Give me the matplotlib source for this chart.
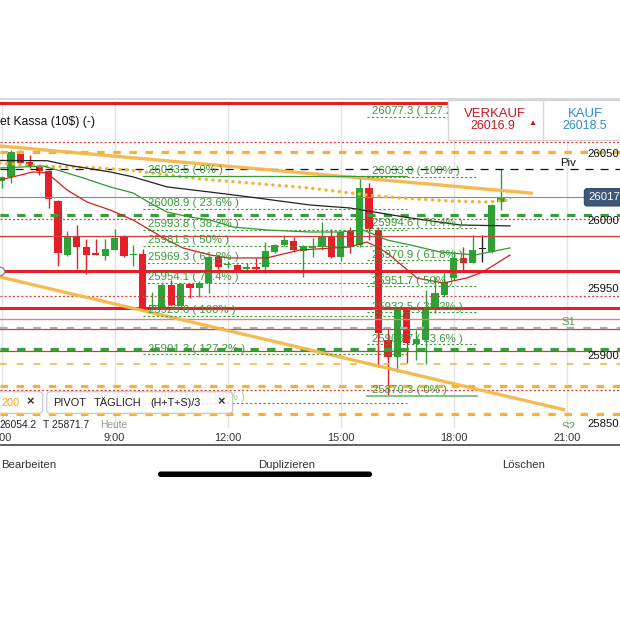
import numpy as np
import pandas as pd
import matplotlib
matplotlib.use("Agg")
import matplotlib.pyplot as plt
from matplotlib import font_manager
from matplotlib.lines import Line2D
from matplotlib.patches import Rectangle, FancyBboxPatch, Polygon

# ---------------------------------------------------------------- data
instrument = "et Kassa (10$) (-)"
bar_times = pd.date_range("2024-01-02 06:00", periods=55, freq="15min")

opens = [26029.8, 26032.8, 26051.3, 26043.9, 26040.2, 26037.2, 26015.0, 25975.0, 25989.1, 25980.9,
         25976.5, 25974.2, 25978.7, 25988.3, 25975.0, 25975.7, 25937.2, 25936.5, 25952.8, 25937.2,
         25953.5, 25950.5, 25954.2, 25973.5, 25967.3, 25967.6, 25964.6, 25966.1, 25966.1, 25977.2,
         25982.4, 25985.4, 25977.9, 25980.2, 25980.9, 25989.1, 25973.5, 25992.8, 25982.4, 26024.6,
         25993.5, 25912.0, 25899.4, 25934.2, 25909.1, 25912.0, 25935.0, 25945.4, 25957.9, 25972.8,
         25969.1, 25979.4, 25977.2, 26014.2, 26017.2]
highs = [26033.5, 26052.8, 26052.8, 26049.1, 26040.9, 26038.0, 26015.7, 25992.8, 25997.2, 25986.8,
         25986.8, 25986.8, 25994.2, 25989.8, 25982.4, 25979.4, 25947.6, 25954.2, 25956.5, 25954.2,
         25954.2, 25955.7, 25974.2, 25975.0, 25970.5, 25968.3, 25969.1, 25972.8, 25984.6, 25983.1,
         25989.8, 25988.3, 25982.4, 25987.6, 25999.4, 25994.2, 25992.0, 25995.7, 26033.0, 26028.3,
         25995.7, 25921.6, 25934.2, 25935.7, 25919.4, 25949.1, 25958.7, 25961.7, 25977.9, 25980.9,
         25989.8, 25989.8, 26012.8, 26038.7, 26017.9]
lows = [26024.6, 26028.3, 26041.6, 26039.4, 26034.2, 26009.8, 25966.8, 25974.2, 25964.6, 25960.9,
        25975.0, 25971.3, 25978.7, 25973.5, 25966.8, 25933.5, 25934.2, 25935.7, 25937.9, 25936.5,
        25943.1, 25943.9, 25946.8, 25964.6, 25965.4, 25963.1, 25963.1, 25963.1, 25961.7, 25976.5,
        25981.6, 25977.2, 25958.7, 25973.5, 25978.7, 25972.8, 25970.5, 25976.5, 25980.9, 25986.1,
        25892.0, 25870.3, 25888.3, 25895.0, 25897.2, 25894.2, 25932.0, 25943.9, 25956.5, 25963.9,
        25969.1, 25969.8, 25976.5, 26008.3, 26017.2]
closes = [26032.8, 26051.3, 26043.1, 26040.2, 26037.2, 26016.5, 25976.5, 25989.1, 25980.9, 25975.0,
          25975.0, 25979.4, 25987.6, 25974.2, 25975.7, 25936.5, 25937.9, 25952.8, 25937.9, 25953.5,
          25950.5, 25954.2, 25973.5, 25966.1, 25967.6, 25963.1, 25966.1, 25964.6, 25977.9, 25982.4,
          25986.1, 25978.7, 25981.6, 25981.6, 25989.1, 25973.5, 25992.0, 25980.9, 26024.6, 25994.2,
          25917.2, 25899.4, 25934.2, 25909.8, 25912.8, 25935.7, 25946.8, 25955.0, 25972.8, 25969.1,
          25978.7, 25979.4, 26012.0, 26017.2, 26017.7]

current_price = 26017.7
sell_price = 26016.9
buy_price = 26018.5
day_high = 26054.2
day_low = 25871.7

# moving averages (hour of day, price)
ma_fast_t = [5.96, 6.84, 7.21, 7.74, 8.27, 8.88, 9.49, 10.39, 10.81, 11.53, 12.01, 13.04,
             13.92, 15.24, 15.69, 15.96, 16.23, 17.02, 17.71, 18.34, 18.77, 19.49]
ma_fast_v = [26030.5, 26036.5, 26035.7, 26023.1, 26014.2, 26008.3, 26000.9, 25986.1, 25980.2,
             25975.0, 25972.8, 25972.8, 25978.7, 25980.9, 25984.6, 25980.9, 25976.5, 25957.9,
             25954.2, 25957.9, 25962.4, 25975.0]
ma_mid_t = [5.96, 7.10, 7.47, 8.17, 8.88, 9.49, 9.94, 10.39, 11.00, 11.53, 12.14, 13.04,
            14.18, 14.98, 15.59, 16.23, 16.84, 17.63, 18.56, 19.49]
ma_mid_v = [26039.4, 26040.9, 26038.0, 26032.0, 26025.4, 26020.9, 26013.5, 26006.8, 26003.1,
            26000.9, 25995.7, 25993.5, 25992.0, 25992.0, 25993.5, 25986.1, 25982.4, 25977.2,
            25975.0, 25980.2]
ma_slow_t = [5.96, 7.21, 7.74, 8.88, 9.49, 10.39, 11.53, 12.59, 14.18, 15.24, 16.84, 18.16, 19.49]
ma_slow_v = [26045.0, 26044.8, 26041.6, 26036.5, 26032.8, 26025.4, 26021.6, 26017.9, 26012.0,
             26009.8, 26002.4, 25997.2, 25996.5]
ma200_t = [5.96, 7.02, 8.61, 9.33, 11.27, 14.18, 15.69, 16.57, 17.90, 18.88, 19.49]
ma200_v = [26043.1, 26040.9, 26039.4, 26038.0, 26031.3, 26024.6, 26019.4, 26017.2, 26015.0,
           26014.2, 26015.7]

# trend lines (hour, price)
upper_trend_t = [5.96, 20.10]
upper_trend_v = [26055.7, 26020.7]
lower_trend_t = [5.96, 20.95]
lower_trend_v = [25958.7, 25860.2]

# horizontal levels
red_thick_levels = [26087.8, 25963.4, 25935.9]
red_thin_levels = [25989.3, 25919.9, 25903.9]
red_light_levels = [25927.2]
red_dotted_levels = [26058.5, 26001.6, 25944.8, 25875.0]
orange_dashed_levels = [26051.5, 25878.2, 25857.2]
orange_thin_levels = [25894.2]
green_dashed_levels = [26004.4, 25905.4]
pivot_level = 26038.7
s1_level = 25921.1
s2_level = 25843.0

# Fibonacci retracements
fib1_levels = [26033.5, 26008.9, 25993.8, 25981.5, 25969.3, 25954.1, 25929.6, 25901.3, 25865.4]
fib1_pcts = ["0%", "23.6%", "38.2%", "50%", "61.8%", "76.4%", "100%", "127.2%", "161.8%"]
fib1_span = (9.75, 16.76)
fib2_levels = [25870.3, 25908.7, 25932.5, 25951.7, 25970.9, 25994.6, 26033.0, 26077.3]
fib2_pcts = ["0%", "23.6%", "38.2%", "50%", "61.8%", "76.4%", "100%", "127.2%"]
fib2_span = (15.69, 18.61)

price_ticks = [26050, 26000, 25950, 25900, 25850]
time_ticks = [6, 9, 12, 15, 18, 21]
time_labels = ["6:00", "9:00", "12:00", "15:00", "18:00", "21:00"]

# ---------------------------------------------------------------- style
plt.rcParams["lines.scale_dashes"] = False
_names = {f.name for f in font_manager.fontManager.ttflist}
if "Liberation Sans Narrow" in _names:
    FONT, K = "Liberation Sans Narrow", 1.0
else:
    FONT, K = "Liberation Sans", 0.84
plt.rcParams["font.family"] = [FONT, "DejaVu Sans"]


def fs(size):
    return size * K


GREEN = "#2fa236"
RED = "#e41f28"
ORANGE = "#f3b232"
FIBG = "#3a9a3a"

W = H = 620
fig = plt.figure(figsize=(6.2, 6.2), dpi=100, facecolor="white")


def fx(x):
    return x / W


def fy(y):
    return 1 - y / H


AX_TOP, AX_BOT = 100.5, 427.5
ax = fig.add_axes([0, fy(AX_BOT), 1, (AX_BOT - AX_TOP) / H])
ax.set_xlim(5.96, 22.406)
ax.set_ylim(25847.2, 26089.4)
for s in ax.spines.values():
    s.set_visible(False)
ax.set_yticks([])
ax.set_xticks(time_ticks)
ax.set_xticklabels(time_labels)
ax.tick_params(axis="x", length=0, pad=3.8, labelsize=fs(9.4), labelcolor="#333333")
ax.grid(axis="x", color="#e4e4e4", lw=1.0, zorder=0)
ax.set_axisbelow(True)

# ---------------------------------------------------------------- levels
for lv in red_thick_levels:
    ax.axhline(lv, color=RED, lw=2.2, zorder=3)
for lv in red_thin_levels:
    ax.axhline(lv, color="#d33a3a", lw=0.9, zorder=3)
for lv in red_light_levels:
    ax.axhline(lv, color="#e58080", lw=1.0, zorder=3)
for lv in red_dotted_levels:
    ax.axhline(lv, color="#d83a3a", lw=0.9, dashes=(1.4, 1.6), zorder=3)
for lv in orange_dashed_levels:
    ax.axhline(lv, color=ORANGE, lw=2.3, dashes=(5.4, 6.2), zorder=3)
for lv in orange_thin_levels:
    ax.axhline(lv, color=ORANGE, lw=1.1, dashes=(5.0, 7.0), zorder=3)
for lv in green_dashed_levels:
    ax.axhline(lv, color="#3a9c3a", lw=2.3, dashes=(6.0, 6.0), zorder=3)
ax.axhline(pivot_level, color="#111111", lw=0.9, dashes=(5.8, 5.0), zorder=3)
ax.axhline(s1_level, color="#a9aea9", lw=1.6, dashes=(5.4, 6.6), zorder=3)
ax.axhline(s2_level, color="#a9aea9", lw=1.6, dashes=(5.4, 6.6), zorder=3)
ax.axhline(current_price, color="#8a8a8a", lw=0.8, zorder=3)
ax.plot([ax.get_xlim()[0]], [red_thick_levels[1]], "o", ms=6, mfc="white",
        mec="#888888", mew=1.0, zorder=6, clip_on=False)

# ---------------------------------------------------------------- candles
t = np.asarray(bar_times.hour + bar_times.minute / 60.0, dtype=float)
o = np.asarray(opens)
h = np.asarray(highs)
lo = np.asarray(lows)
c = np.asarray(closes)
colors = np.where(c == o, "#222222", np.where(c > o, GREEN, RED))
ax.vlines(t, lo, h, colors=colors, lw=1.0, zorder=2)
ax.bar(t, np.maximum(np.abs(c - o), 0.7), bottom=np.minimum(o, c), width=0.19,
       color=colors, lw=0, zorder=2.1)

# ---------------------------------------------------------------- averages and trend lines
ax.plot(ma200_t, ma200_v, color=ORANGE, lw=2.5, dashes=(0.01, 4.8),
        dash_capstyle="round", zorder=4)
ax.plot(ma_slow_t, ma_slow_v, color="#222222", lw=0.9, zorder=4)
ax.plot(ma_mid_t, ma_mid_v, color="#2f9a2f", lw=0.9, zorder=4)
ax.plot(ma_fast_t, ma_fast_v, color="#d41f1f", lw=0.9, zorder=4)
ax.plot(upper_trend_t, upper_trend_v, color="#f5b849", lw=2.4, alpha=0.95,
        solid_capstyle="butt", zorder=4.5)
ax.plot(lower_trend_t, lower_trend_v, color="#f5b849", lw=2.4, alpha=0.95,
        solid_capstyle="butt", zorder=4.5)

# ---------------------------------------------------------------- Fibonacci tools
def draw_fib(levels, pcts, span, zero_style, faded=()):
    for lv, pct in zip(levels, pcts):
        if pct == "0%":
            ax.plot(span, [lv, lv], zorder=5, **zero_style)
        else:
            ax.plot(span, [lv, lv], color=FIBG, lw=0.8, dashes=(1.6, 1.6), zorder=5)
        col = FIBG if pct not in faded else "#9fd09f"
        ax.annotate(f"{lv:.1f} ( {pct} )", xy=(span[0], lv), xytext=(3.6, 0.6),
                    textcoords="offset points", ha="left", va="bottom",
                    fontsize=fs(9.8), color=col, zorder=6, annotation_clip=False)


draw_fib(fib1_levels, fib1_pcts, fib1_span, dict(color=FIBG, lw=0.9), faded=("161.8%",))
draw_fib(fib2_levels, fib2_pcts, fib2_span, dict(color="#86c286", lw=1.4))

# ---------------------------------------------------------------- right-hand labels
ytr = ax.get_yaxis_transform()
for p in price_ticks:
    ax.text(fx(587), p, f"{p:.1f}", transform=ytr, ha="left", va="center",
            fontsize=fs(9.8), color="#111111", zorder=7, clip_on=False)
ax.annotate("Piv", xy=(20.82, pivot_level), xytext=(0, 0.8), textcoords="offset points",
            ha="left", va="bottom", fontsize=fs(9.8), color="#111111", zorder=7)
ax.annotate("S1", xy=(20.86, s1_level), xytext=(0, 0.8), textcoords="offset points",
            ha="left", va="bottom", fontsize=fs(9.8), color="#5a9e5a", zorder=7)
ax.annotate("S2", xy=(20.86, s2_level), xytext=(0, 0.8), textcoords="offset points",
            ha="left", va="bottom", fontsize=fs(9.8), color="#5a9e5a", zorder=7,
            annotation_clip=False, clip_on=True)
ax.text(fx(588), current_price, f"{current_price:.1f}", transform=ytr, ha="left",
        va="center", fontsize=fs(9.8), color="white", zorder=8, clip_on=False,
        bbox=dict(boxstyle="round,pad=0.32,rounding_size=0.25", fc="#3d5878", ec="#2e4765", lw=0.8))

# day range info line (partly hidden under the time axis)
for x, s, col in [(-1, f"H {day_high:.1f}"[2:], "#222222"), (43, f"T {day_low:.1f}", "#222222"),
                  (100, "Heute", "#9a9a9a")]:
    ax.text(fx(x), (AX_BOT - 425) / (AX_BOT - AX_TOP), s, transform=ax.transAxes, ha="left",
            va="center", fontsize=fs(8.8), color=col, zorder=7, clip_on=True)

# ---------------------------------------------------------------- interface elements
fig.add_artist(Line2D([0, 1], [fy(99.3)] * 2, color="#d9d9d9", lw=1.5))
fig.text(fx(0), fy(121.7), instrument, ha="left", va="center", fontsize=fs(10.4), color="#111111")

# sell / buy panel
fig.add_artist(Rectangle((fx(448), fy(140)), fx(175), 40 / H, fc="white", ec="#d6d6d6",
                         lw=1.0, transform=fig.transFigure, zorder=10))
fig.add_artist(Line2D([fx(543)] * 2, [fy(101), fy(139)], color="#d6d6d6", lw=1.0, zorder=11))
fig.text(fx(495), fy(114), "VERKAUF", ha="center", va="center", fontsize=fs(11.2),
         color="#c8171f", zorder=12)
fig.text(fx(493), fy(126), f"{sell_price:.1f}", ha="center", va="center", fontsize=fs(10.6),
         color="#c8171f", zorder=12)
fig.add_artist(Polygon([[fx(530.5), fy(125)], [fx(535.5), fy(125)], [fx(533), fy(120.5)]],
                       closed=True, fc="#c8171f", ec="none", transform=fig.transFigure, zorder=12))
fig.text(fx(585), fy(114), "KAUF", ha="center", va="center", fontsize=fs(11.2),
         color="#2b8fd0", zorder=12)
fig.text(fx(585), fy(126), f"{buy_price:.1f}", ha="center", va="center", fontsize=fs(10.6),
         color="#2b8fd0", zorder=12)

# indicator chips
for x0, x1 in [(-6, 42.7), (46.7, 232.7)]:
    fig.add_artist(FancyBboxPatch((fx(x0), fy(413.3)), fx(x1 - x0), 21.6 / H,
                                  boxstyle=f"round,pad=0,rounding_size={4 / W}",
                                  fc=(1, 1, 1, 0.82), ec="#c9c9c9", lw=0.9,
                                  transform=fig.transFigure, zorder=10))
chip_y = fy(402.5)
fig.text(fx(2), chip_y, "200", ha="left", va="center", fontsize=fs(9.4), color="#f0a61c", zorder=12)
fig.text(fx(30.7), chip_y, "×", ha="center", va="center", fontsize=fs(11), color="#333333",
         fontweight="bold", zorder=12)
fig.text(fx(53), chip_y, "PIVOT", ha="left", va="center", fontsize=fs(9.4), color="#222222", zorder=12)
fig.text(fx(94), chip_y, "TÄGLICH", ha="left", va="center", fontsize=fs(9.4), color="#222222", zorder=12)
fig.text(fx(150), chip_y, "(H+T+S)/3", ha="left", va="center", fontsize=fs(9.2), color="#222222", zorder=12)
fig.text(fx(221), chip_y, "×", ha="center", va="center", fontsize=fs(11), color="#333333",
         fontweight="bold", zorder=12)

# toolbar
fig.add_artist(Line2D([0, 1], [fy(444.5)] * 2, color="#555555", lw=1.3))
fig.text(fx(1), fy(465), "Bearbeiten", ha="left", va="center", fontsize=fs(9.8), color="#333333")
fig.text(fx(286.5), fy(465), "Duplizieren", ha="center", va="center", fontsize=fs(9.8), color="#333333")
fig.text(fx(524), fy(465), "Löschen", ha="center", va="center", fontsize=fs(9.8), color="#333333")
fig.add_artist(FancyBboxPatch((fx(158), fy(477)), fx(214), 5.5 / H,
                              boxstyle=f"round,pad=0,rounding_size={2.7 / W}",
                              fc="black", ec="none", transform=fig.transFigure))

fig.savefig("out.png", dpi=100, facecolor="white")
